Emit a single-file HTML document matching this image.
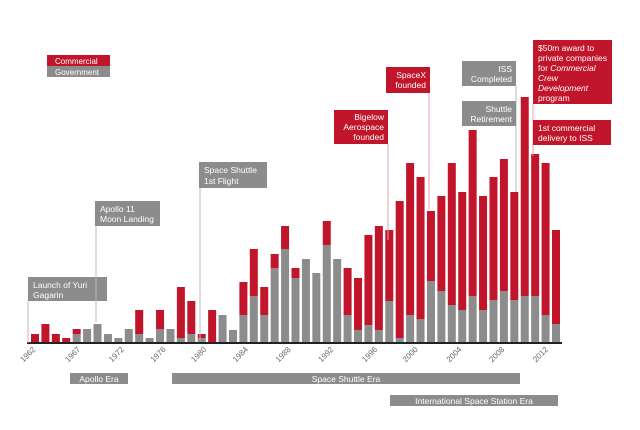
<!DOCTYPE html>
<html><head><meta charset="utf-8"><style>
body{margin:0;background:#fff;}
svg{display:block;font-family:"Liberation Sans",Arial,sans-serif;}
</style></head><body>
<svg id="chart" width="640" height="430" viewBox="0 0 640 430" xmlns="http://www.w3.org/2000/svg">
<g id="bars"></g>
<line x1="27" y1="343" x2="562" y2="343" stroke="#222" stroke-width="2"/>
<g id="ticks" font-size="8" fill="#666"></g>

<g font-size="8" fill="#fff">
<rect x="47" y="55" width="63" height="11" fill="#c0152a"/>
<text x="55" y="64">Commercial</text>
<rect x="47" y="66" width="63" height="11" fill="#8c8c8c"/>
<text x="55" y="75">Government</text>
</g>

<g font-size="8.5" fill="#fff">
<line x1="28" y1="301" x2="28" y2="343" stroke="#bbb"/>
<rect x="28" y="277" width="79" height="24" fill="#8c8c8c"/>
<text x="33" y="288">Launch of Yuri</text><text x="33" y="298">Gagarin</text>

<line x1="96" y1="226" x2="96" y2="322" stroke="#bbb"/>
<rect x="95" y="201" width="65" height="25" fill="#8c8c8c"/>
<text x="100" y="212">Apollo  11</text><text x="100" y="222">Moon  Landing</text>

<line x1="200" y1="188" x2="200" y2="341" stroke="#bbb"/>
<rect x="199" y="162" width="68" height="26" fill="#8c8c8c"/>
<text x="204" y="173">Space Shuttle</text><text x="204" y="184">1st Flight</text>

<line x1="388" y1="144" x2="388" y2="240" stroke="#e8a0a8"/>
<rect x="334" y="110" width="54" height="34" fill="#c0152a"/>
<text x="384" y="120" text-anchor="end">Bigelow</text><text x="384" y="130" text-anchor="end">Aerospace</text><text x="384" y="140" text-anchor="end">founded</text>

<line x1="429" y1="93" x2="429" y2="210" stroke="#e8a0a8"/>
<rect x="386" y="67" width="44" height="26" fill="#c0152a"/>
<text x="426" y="78" text-anchor="end">SpaceX</text><text x="426" y="88" text-anchor="end">founded</text>

<line x1="516" y1="86" x2="516" y2="192" stroke="#bbb"/>
<rect x="462" y="61" width="54" height="25" fill="#8c8c8c"/>
<text x="512" y="72" text-anchor="end">ISS</text><text x="512" y="82" text-anchor="end">Completed</text>
<rect x="462" y="101" width="54" height="25" fill="#8c8c8c"/>
<text x="512" y="112" text-anchor="end">Shuttle</text><text x="512" y="122" text-anchor="end">Retirement</text>

<line x1="533" y1="104" x2="533" y2="156" stroke="#e8a0a8"/>
<rect x="533" y="40" width="79" height="64" fill="#c0152a"/>
<text x="538" y="51">$50m award to</text><text x="538" y="61">private companies</text>
<text x="538" y="71">for <tspan font-style="italic">Commercial</tspan></text>
<text x="538" y="81" font-style="italic">Crew</text><text x="538" y="91" font-style="italic">Development</text>
<text x="538" y="101">program</text>
<rect x="533" y="120" width="78" height="25" fill="#c0152a"/>
<text x="538" y="131">1st commercial</text><text x="538" y="141">delivery to ISS</text>
</g>

<g font-size="8.5" fill="#fff" text-anchor="middle">
<rect x="70" y="373" width="58" height="11" fill="#8c8c8c"/>
<text x="99" y="382">Apollo Era</text>
<rect x="172" y="373" width="348" height="11" fill="#8c8c8c"/>
<text x="346" y="382">Space Shuttle Era</text>
<rect x="390" y="395" width="168" height="11" fill="#8c8c8c"/>
<text x="474" y="404">International Space Station Era</text>
</g>
</svg>
<script>
const years = [];
for (let y = 1962; y <= 2012; y++) years.push(y);
const government = [0,0,0,0,9,14,19,9,5,14,9,5,14,14,5,9,5,0,28,13,28,47,28,75,94,65,84,70,98,84,28,13,18,13,42,5,28,24,62,52,38,33,47,33,43,52,43,47,47,28,19];
const commercial = [9,19,9,5,5,0,0,0,0,0,24,0,19,0,51,33,4,33,0,0,33,47,28,14,23,10,0,0,24,0,47,52,90,104,71,137,152,142,70,95,142,118,166,114,123,132,108,199,142,152,94];
const tickLabels = [1962,1967,1972,1976,1980,1984,1988,1992,1996,2000,2004,2008,2012];
const tickPos = [0,4.3,8.5,12.5,16.4,20.4,24.5,28.6,32.8,36.7,40.9,45,49.2];

const NS = "http://www.w3.org/2000/svg";
const baseY = 343, x0 = 35, step = 10.42, bw = 8;
function xScale(i){ return x0 + i*step; }
function hScale(v){ return v; }
const gBars = document.getElementById('bars');
years.forEach((yr, i) => {
  const g = government[i], c = commercial[i];
  const cx = xScale(i);
  if (g > 0) {
    const r = document.createElementNS(NS,'rect');
    r.setAttribute('x', cx - bw/2); r.setAttribute('y', baseY - hScale(g));
    r.setAttribute('width', bw); r.setAttribute('height', hScale(g));
    r.setAttribute('fill', '#8c8c8c');
    
    
    gBars.appendChild(r);
  }
  if (c > 0) {
    const r = document.createElementNS(NS,'rect');
    r.setAttribute('x', cx - bw/2); r.setAttribute('y', baseY - hScale(g + c));
    r.setAttribute('width', bw); r.setAttribute('height', hScale(c));
    r.setAttribute('fill', '#c0152a');
    
    
    gBars.appendChild(r);
  }
});
const gT = document.getElementById('ticks');
tickLabels.forEach((lab, k) => {
  const x = xScale(tickPos[k]) + 1, y = 350;
  const t = document.createElementNS(NS,'text');
  t.setAttribute('x', x); t.setAttribute('y', y);
  t.setAttribute('text-anchor', 'end');
  t.setAttribute('transform', 'rotate(-45 ' + x + ' ' + y + ')');
  t.textContent = lab;
  
  
  gT.appendChild(t);
});
</script>
</body></html>
